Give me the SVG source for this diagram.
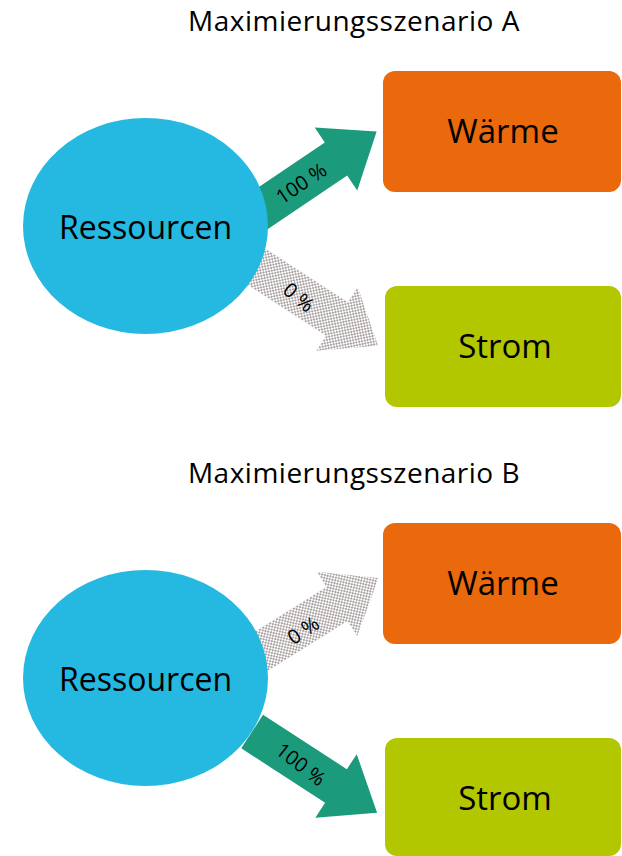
<svg xmlns="http://www.w3.org/2000/svg" width="622" height="856" viewBox="0 0 622 856">
<defs>
<pattern id="dots" patternUnits="userSpaceOnUse" width="4" height="4">
<rect x="0" y="0" width="2" height="2" fill="#ada5a5"/>
<rect x="2" y="2" width="2" height="2" fill="#ada5a5"/>
</pattern>
<polygon id="arr" points="-100,-20 0,-20 0,-38 49,0 0,38 0,20 -100,20"/>
</defs>
<style>
text{font-family:"Open Sans","Noto Sans","Liberation Sans",sans-serif;fill:#000}
.title{font-size:28px;text-anchor:middle;letter-spacing:0.5px}
.node{font-size:32px;text-anchor:middle}
.box{font-size:33px;text-anchor:middle}
.lbl{font-size:20px;text-anchor:middle;dominant-baseline:central}
.full{fill:#1c9a7c}
.none{fill:url(#dots)}
.res{fill:#25b8e0}
.heat{fill:#e9690c}
.power{fill:#b3c700}
</style>
<text class="title" x="354" y="31">Maximierungsszenario A</text>
<text class="title" x="354" y="483">Maximierungsszenario B</text>
<g id="connectors">
<use href="#arr" class="full" transform="translate(336,159) rotate(-34)"/>
<use href="#arr" class="none" transform="translate(337,319) rotate(33)"/>
<use href="#arr" class="none" transform="translate(337,604) rotate(-32)"/>
<use href="#arr" class="full" transform="translate(336,786) rotate(33)"/>
<text class="lbl" transform="translate(301,183) rotate(-34)">100 %</text>
<text class="lbl" transform="translate(299,297) rotate(40)">0 %</text>
<text class="lbl" transform="translate(303,630) rotate(-34)">0 %</text>
<text class="lbl" transform="translate(301,764) rotate(38)">100 %</text>
</g>
<g id="ressourcen-a">
<ellipse class="res" cx="145.5" cy="226" rx="122.5" ry="108"/>
<text class="node" x="145.5" y="239">Ressourcen</text>
</g>
<g id="waerme-a">
<rect class="heat" x="383" y="71" width="238" height="121" rx="12"/>
<text class="box" x="503" y="143">Wärme</text>
</g>
<g id="strom-a">
<rect class="power" x="385" y="286" width="236" height="121" rx="12"/>
<text class="box" x="505" y="358">Strom</text>
</g>
<g id="ressourcen-b">
<ellipse class="res" cx="145.5" cy="678" rx="122.5" ry="108"/>
<text class="node" x="145.5" y="691">Ressourcen</text>
</g>
<g id="waerme-b">
<rect class="heat" x="383" y="523" width="238" height="121" rx="12"/>
<text class="box" x="503" y="595">Wärme</text>
</g>
<g id="strom-b">
<rect class="power" x="385" y="738" width="236" height="118" rx="12"/>
<text class="box" x="505" y="810">Strom</text>
</g>
</svg>
